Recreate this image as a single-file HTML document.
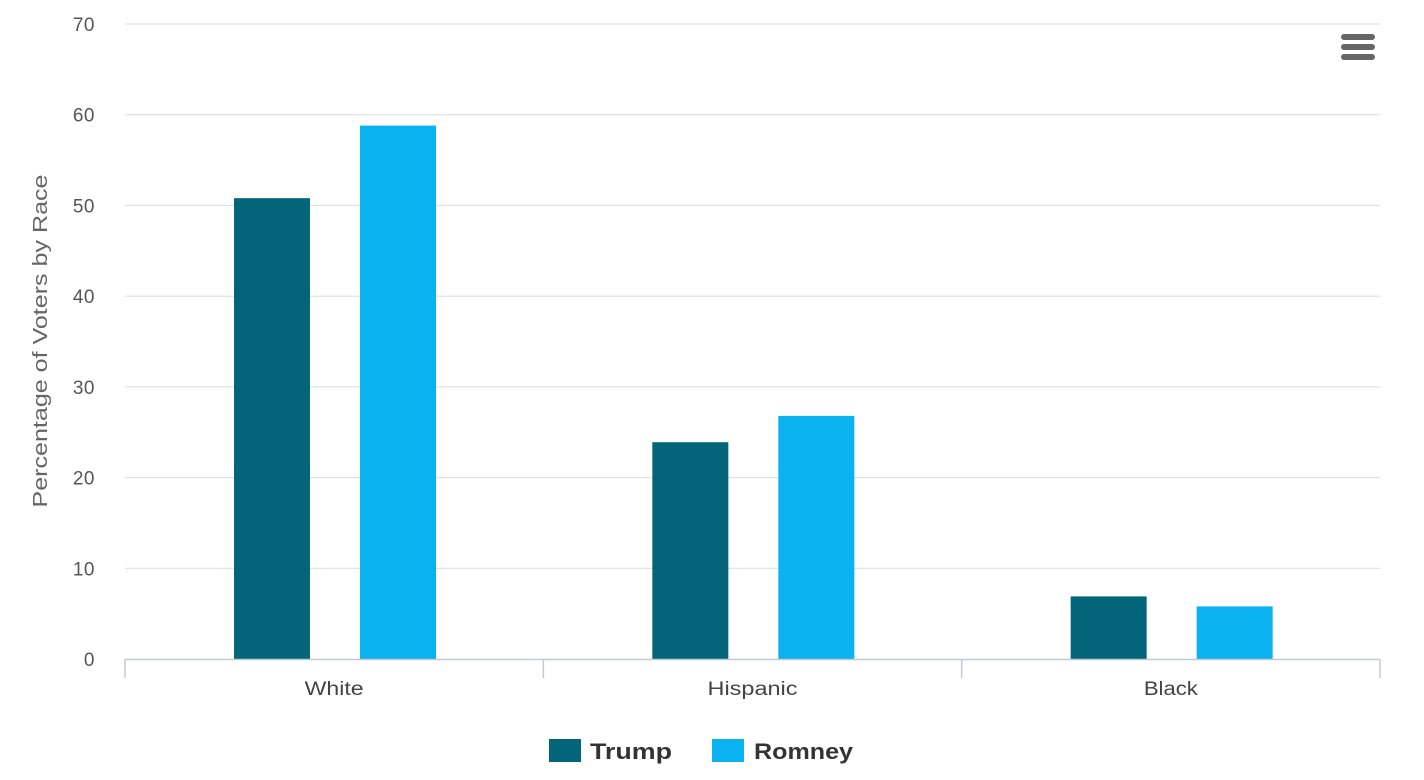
<!DOCTYPE html>
<html><head><meta charset="utf-8"><style>
body{margin:0;background:#fff;font-family:"Liberation Sans","DejaVu Sans",sans-serif;}
svg{display:block}
</style></head><body>
<svg width="1424" height="780">
<g id="grid"></g><g id="bars"></g><g id="axes"></g>
<g>
<rect x="1341" y="34" width="34" height="6" rx="3" fill="#666"/>
<rect x="1341" y="44" width="34" height="6" rx="3" fill="#666"/>
<rect x="1341" y="54" width="34" height="6" rx="3" fill="#666"/>
</g>
<text transform="translate(47,341) rotate(-90)" text-anchor="middle" font-size="20" fill="#666" textLength="333" lengthAdjust="spacingAndGlyphs">Percentage of Voters by Race</text>
<g>
<g><rect x="549" y="739" width="32" height="23" fill="#03657a"/><text x="590" y="759" font-size="22" font-weight="bold" fill="#333" textLength="82" lengthAdjust="spacingAndGlyphs">Trump</text></g>
<g><rect x="712" y="739" width="32" height="23" fill="#0ab2f0"/><text x="754" y="759" font-size="22" font-weight="bold" fill="#333" textLength="99" lengthAdjust="spacingAndGlyphs">Romney</text></g>
</g>
</svg>
<script>
const categories=["White","Hispanic","Black"];
const trump=[50.8,23.9,6.9];
const romney=[58.8,26.8,5.8];
const yTicks=[0,10,20,30,40,50,60,70];
const NS="http://www.w3.org/2000/svg";
const L=125,R=1380,T=24,B=659,max=70;
const y=v=>B-(v/max)*(B-T);
const cw=(R-L)/categories.length;
const x=i=>L+i*cw;
function mk(tag,attrs,parent,txt){const e=document.createElementNS(NS,tag);for(const k in attrs)e.setAttribute(k,attrs[k]);if(txt!=null)e.textContent=txt;document.getElementById(parent).appendChild(e);return e;}
yTicks.forEach(t=>{
 if(t>0){const g=mk("line",{x1:L,x2:R,y1:y(t),y2:y(t),stroke:"#d6dbe2","stroke-width":1},"grid");
 
 }
 const l=mk("text",{x:95,y:y(t)+7,"text-anchor":"end","font-size":19,fill:"#555","letter-spacing":"0.5"},"axes",t);
 
 
});
const ax=mk("line",{x1:L,x2:R,y1:B+0.5,y2:B+0.5,stroke:"#c0cad8","stroke-width":1.5},"axes");


for(let i=0;i<=categories.length;i++){
 const tk=mk("line",{x1:x(i),x2:x(i),y1:B,y2:B+19,stroke:"#c0cad8","stroke-width":1.5},"axes");
 
 
}
const labelW=[59,90,54];
categories.forEach((c,i)=>{
 const l=mk("text",{x:x(i)+cw/2,y:695,"text-anchor":"middle","font-size":19,fill:"#444",textLength:labelW[i],lengthAdjust:"spacingAndGlyphs"},"axes",c);
 
 
 const b1=mk("rect",{x:x(i)+109,y:y(trump[i]),width:76,height:B-y(trump[i]),fill:"#03657a"},"bars");
 
 
 const b2=mk("rect",{x:x(i)+235,y:y(romney[i]),width:76,height:B-y(romney[i]),fill:"#0ab2f0"},"bars");
 
 
});
</script>
</body></html>
